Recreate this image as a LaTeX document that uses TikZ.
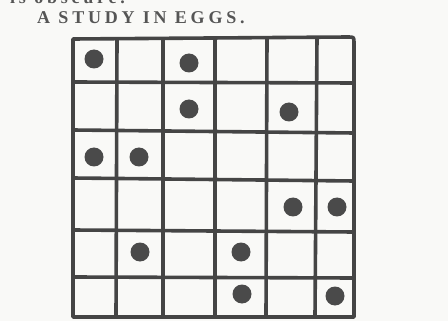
\documentclass[tikz,border=0pt]{standalone}
\usepackage{fontspec}
\setmainfont{Liberation Serif}
\definecolor{paper}{HTML}{F9F9F7}
\definecolor{ink}{HTML}{454545}
\definecolor{eggink}{HTML}{4A4A4A}
\definecolor{printink}{HTML}{555555}

\begin{document}
\begin{tikzpicture}[x=1pt,y=-1pt,
  gridline/.style={ink,line width=3.6pt,line cap=round,line join=round},
  egg/.style={circle,fill=eggink,inner sep=0pt,minimum size=19pt},
  caption/.style={printink,inner sep=0pt,anchor=base west,font=\fontsize{18}{20}\selectfont\bfseries\addfontfeature{LetterSpace=21}}]
\useasboundingbox (0,0) rectangle (448,321);
\clip (0,0) rectangle (448,321);
\fill[paper] (0,0) rectangle (448,321);
\node[caption] (prevline) at (10,4) {is obscure.};
\node[caption] (title) at (37,24) {A STUDY IN EGGS.};
% outer frame
\draw[gridline] (73,317) -- (73,39) -- (348,37) .. controls (354,37) .. (354,43) -- (354,317) -- cycle;
% columns
\draw[gridline] (117,39) -- (116,317);
\draw[gridline] (163,39) -- (163,317);
\draw[gridline] (215,38) -- (215,317);
\draw[gridline] (267,38) -- (266,317);
\draw[gridline] (317,38) -- (315,317);
% rows
\draw[gridline] (73,82) -- (354,83);
\draw[gridline] (73,130) -- (354,133);
\draw[gridline] (73,178) -- (354,181);
\draw[gridline] (73,230) -- (354,232);
\draw[gridline] (73,277) -- (354,278);
% eggs
\node[egg] (egg-1-1) at (94,59) {};
\node[egg] (egg-1-3) at (189,63) {};
\node[egg] (egg-2-3) at (189,109) {};
\node[egg] (egg-2-5) at (289,112) {};
\node[egg] (egg-3-1) at (94,157) {};
\node[egg] (egg-3-2) at (139,157) {};
\node[egg] (egg-4-5) at (293,207) {};
\node[egg] (egg-4-6) at (337,207) {};
\node[egg] (egg-5-2) at (140,252) {};
\node[egg] (egg-5-4) at (241,252) {};
\node[egg] (egg-6-4) at (242,294) {};
\node[egg] (egg-6-6) at (335,296) {};
\end{tikzpicture}
\end{document}
